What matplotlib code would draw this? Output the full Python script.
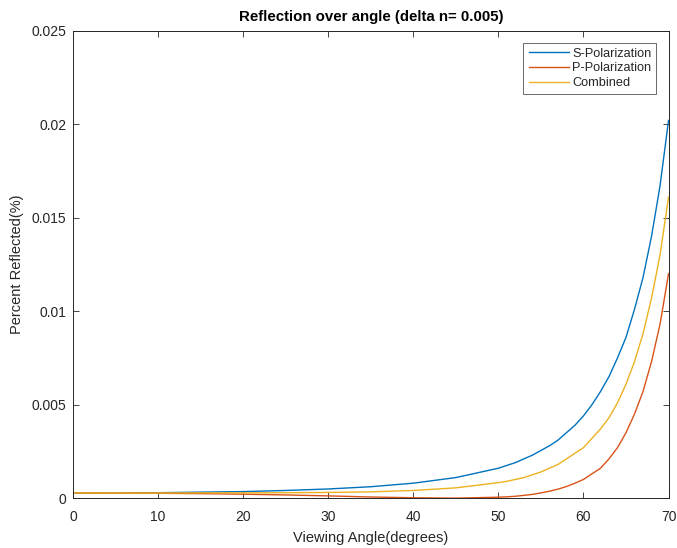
import matplotlib.pyplot as plt
from matplotlib.ticker import FixedLocator

plt.rcParams['font.family'] = ['Liberation Sans', 'DejaVu Sans']

# values
angle = [0, 5, 10, 15, 20, 25, 30, 35, 40, 45, 50, 51, 52, 53, 54, 55, 56,
         57, 58, 59, 60, 61, 62, 63, 64, 65, 66, 67, 68, 69, 70]
s_pol = [0.00028, 0.00028, 0.00029, 0.00032, 0.00035, 0.00041, 0.00049,
         0.00061, 0.00080, 0.0011, 0.0016, 0.00175, 0.0019, 0.0021, 0.0023,
         0.00255, 0.0028, 0.0031, 0.0035, 0.0039, 0.0044, 0.0050, 0.0057,
         0.0065, 0.0075, 0.0086, 0.0101, 0.0118, 0.0140, 0.0167, 0.0202]
p_pol = [0.00028, 0.00027, 0.00026, 0.00024, 0.00021, 0.00017, 0.00012,
         0.00006, 0.00002, 0.0, 0.00005, 0.00007, 0.0001, 0.00015, 0.0002,
         0.00028, 0.00037, 0.00048, 0.00062, 0.0008, 0.001, 0.0013, 0.0016,
         0.0021, 0.0027, 0.0035, 0.0045, 0.0057, 0.0073, 0.0093, 0.0120]
combined = [0.00028, 0.000275, 0.000275, 0.00028, 0.00028, 0.00029, 0.000305,
            0.000335, 0.00041, 0.00055, 0.00083, 0.0009, 0.001, 0.0011,
            0.00125, 0.0014, 0.0016, 0.0018, 0.0021, 0.0024, 0.0027, 0.0032,
            0.0037, 0.0043, 0.0051, 0.0061, 0.0073, 0.0088, 0.0107, 0.0130,
            0.0161]

xticks = [0, 10, 20, 30, 40, 50, 60, 70]
yticks = [0, 0.005, 0.01, 0.015, 0.02, 0.025]
ytick_labels = ['0', '0.005', '0.01', '0.015', '0.02', '0.025']

fig = plt.figure(figsize=(6.77, 5.48), dpi=100)
ax = fig.add_axes([0.108, 0.091, 0.8795, 0.853])

ax.plot(angle, s_pol, color=(0, 0.447, 0.741), lw=1.0, label='S-Polarization')
ax.plot(angle, p_pol, color=(0.85, 0.325, 0.098), lw=1.0, label='P-Polarization')
ax.plot(angle, combined, color=(0.929, 0.694, 0.125), lw=1.0, label='Combined')

ax.set_xlim(0, 70)
ax.set_ylim(0, 0.025)
ax.xaxis.set_major_locator(FixedLocator(xticks))
ax.set_yticks(yticks)
ax.set_yticklabels(ytick_labels)

gray = '#262626'
ax.tick_params(direction='in', top=True, right=True, length=4, width=0.6,
               labelsize=10, colors=gray, pad=5)
ax.tick_params(axis='x', pad=8.5)
for sp in ax.spines.values():
    sp.set_linewidth(0.7)
    sp.set_color(gray)

ax.set_xlabel('Viewing Angle(degrees)', fontsize=10.5, color=gray, labelpad=5)
ax.set_ylabel('Percent Reflected(%)', fontsize=10.5, color=gray, labelpad=5)
ax.set_title('Reflection over angle (delta n= 0.005)', fontsize=10.8,
             fontweight='bold', color='black', pad=7)

leg = ax.legend(loc='upper right', prop={'size': 9.2}, frameon=True,
                fancybox=False, edgecolor=gray, handlelength=3.2,
                handletextpad=0.2, borderpad=0.4, labelspacing=0.2,
                borderaxespad=0.95)
leg.get_frame().set_linewidth(0.6)
for t in leg.get_texts():
    t.set_color(gray)

fig.savefig('out.png', dpi=100)
